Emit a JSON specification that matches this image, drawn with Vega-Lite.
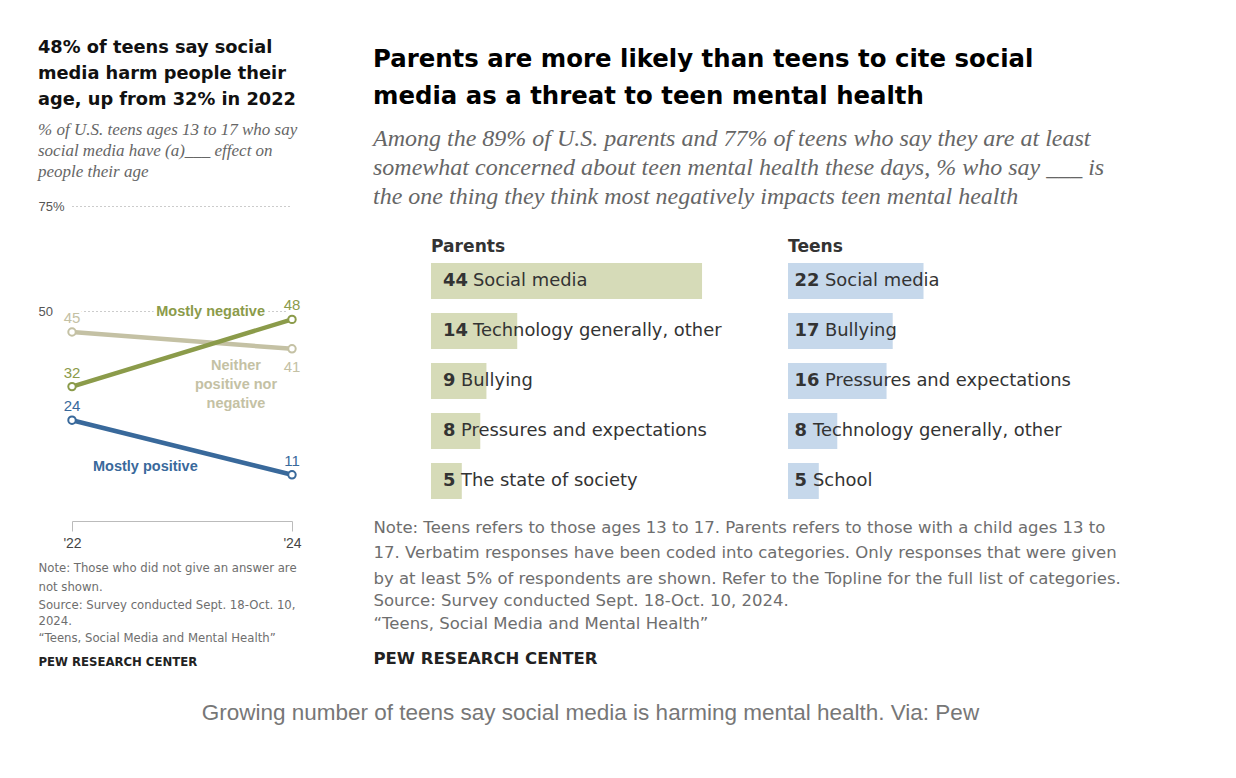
{
  "$schema": "https://vega.github.io/schema/vega-lite/v6.json",
  "background": "white",
  "padding": {"left": 38, "top": 39, "right": 5, "bottom": 5},
  "datasets": {
    "trend": [
      {"series": "Mostly positive", "year": "'22", "value": 24},
      {"series": "Mostly positive", "year": "'24", "value": 11},
      {"series": "Neither positive nor negative", "year": "'22", "value": 45},
      {"series": "Neither positive nor negative", "year": "'24", "value": 41},
      {"series": "Mostly negative", "year": "'22", "value": 32},
      {"series": "Mostly negative", "year": "'24", "value": 48}
    ],
    "parents": [
      {"item": "Social media", "value": 44},
      {"item": "Technology generally, other", "value": 14},
      {"item": "Bullying", "value": 9},
      {"item": "Pressures and expectations", "value": 8},
      {"item": "The state of society", "value": 5}
    ],
    "teens": [
      {"item": "Social media", "value": 22},
      {"item": "Bullying", "value": 17},
      {"item": "Pressures and expectations", "value": 16},
      {"item": "Technology generally, other", "value": 8},
      {"item": "School", "value": 5}
    ]
  },
  "title": {
    "text": "Growing number of teens say social media is harming mental health. Via: Pew",
    "orient": "bottom", "anchor": "middle", "dx": 11, "offset": 34,
    "font": "Liberation Sans", "fontSize": 22.5, "fontWeight": "normal", "color": "#777"
  },
  "spacing": 71,
  "hconcat": [
    {
      "spacing": 12,
      "vconcat": [
        {
          "width": 220,
          "height": 315,
          "data": {"name": "trend"},
          "title": {
            "text": ["48% of teens say social", "media harm people their", "age, up from 32% in 2022"],
            "subtitle": ["% of U.S. teens ages 13 to 17 who say", "social media have (a)___ effect on", "people their age"],
            "anchor": "start", "font": "DejaVu Sans", "fontSize": 17.8, "fontWeight": "bold", "color": "#111",
            "lineHeight": 26, "subtitleFont": "Liberation Serif", "subtitleFontStyle": "italic",
            "subtitleFontSize": 17, "subtitleColor": "#666", "subtitleLineHeight": 21,
            "subtitlePadding": 13, "offset": 20
          },
          "encoding": {
            "x": {
              "field": "year", "type": "ordinal", "sort": null,
              "scale": {"type": "point", "padding": 0},
              "axis": {"title": null, "labelAngle": 0, "domainColor": "#bbb", "tickColor": "#bbb", "tickSize": 10,
                       "labelPadding": 5, "labelFontSize": 14, "labelColor": "#444", "labelFont": "Liberation Sans", "grid": false}
            },
            "y": {
              "field": "value", "type": "quantitative", "scale": {"domain": [0, 75]},
              "axis": {"title": null, "values": [50, 75], "domain": false, "ticks": false, "tickSize": 0,
                       "labelAlign": "left", "labelPadding": 34, "labelFlush": false,
                       "labelExpr": "datum.value == 75 ? '75%' : '50'", "labelFontSize": 13, "labelColor": "#555",
                       "labelFont": "Liberation Sans", "grid": true, "gridDash": [1, 3], "gridColor": "#999", "gridWidth": 1}
            },
            "color": {
              "field": "series", "type": "nominal", "legend": null,
              "scale": {"domain": ["Mostly positive", "Neither positive nor negative", "Mostly negative"],
                        "range": ["#39699b", "#c4c1a4", "#8b9b4a"]}
            }
          },
          "layer": [
            {
              "transform": [{"filter": "!(datum.series == 'Neither positive nor negative' && datum.year == \"'24\")"}],
              "mark": {"type": "text", "dy": -14, "fontSize": 15, "font": "Liberation Sans", "stroke": "white", "strokeWidth": 6, "strokeJoin": "round"},
              "encoding": {"text": {"field": "value"}, "color": {"value": "white"}}
            },
            {
              "transform": [{"filter": "datum.series == 'Mostly negative' && datum.year == \"'24\""}],
              "mark": {"type": "text", "text": "Mostly negative", "align": "right", "dx": -27, "dy": -7, "fontSize": 14.5,
                       "font": "Liberation Sans", "fontWeight": "bold", "stroke": "white", "strokeWidth": 7, "strokeJoin": "round"},
              "encoding": {"color": {"value": "white"}}
            },
            {"mark": {"type": "line", "strokeWidth": 4.5}},
            {"mark": {"type": "point", "filled": false, "fill": "white", "size": 55, "strokeWidth": 2, "opacity": 1}},
            {
              "transform": [{"filter": "!(datum.series == 'Neither positive nor negative' && datum.year == \"'24\")"}],
              "mark": {"type": "text", "dy": -14, "fontSize": 15, "font": "Liberation Sans"},
              "encoding": {"text": {"field": "value"}}
            },
            {
              "transform": [{"filter": "datum.series == 'Neither positive nor negative' && datum.year == \"'24\""}],
              "mark": {"type": "text", "dy": 18, "fontSize": 15, "font": "Liberation Sans"},
              "encoding": {"text": {"field": "value"}}
            },
            {
              "transform": [{"filter": "datum.series == 'Mostly negative' && datum.year == \"'24\""}],
              "mark": {"type": "text", "text": "Mostly negative", "align": "right", "dx": -27, "dy": -7, "fontSize": 14.5,
                       "font": "Liberation Sans", "fontWeight": "bold"}
            },
            {
              "transform": [{"filter": "datum.series == 'Neither positive nor negative' && datum.year == \"'24\""}],
              "mark": {"type": "text", "text": ["Neither", "positive nor", "negative"], "align": "center", "baseline": "top",
                       "lineHeight": 19, "dx": -56, "dy": 10, "fontSize": 14.5, "font": "Liberation Sans", "fontWeight": "bold"}
            },
            {
              "transform": [{"filter": "datum.series == 'Mostly positive' && datum.year == \"'22\""}],
              "mark": {"type": "text", "text": "Mostly positive", "align": "left", "dx": 21, "dy": 47, "fontSize": 14.5,
                       "font": "Liberation Sans", "fontWeight": "bold"}
            }
          ]
        },
        {
          "width": 1,
          "height": 1,
          "data": {"values": [{}]},
          "layer": [
            {"mark": {"type": "text", "align": "left", "baseline": "top", "dx": -34, "font": "DejaVu Sans", "fontSize": 11.7, "color": "#6e6e6e",
                      "lineHeight": 19.5, "text": ["Note: Those who did not give an answer are", "not shown."]}, "encoding": {}},
            {"mark": {"type": "text", "align": "left", "baseline": "top", "dx": -34, "font": "DejaVu Sans", "fontSize": 11.7, "color": "#6e6e6e",
                      "lineHeight": 16.5, "dy": 37, "text": ["Source: Survey conducted Sept. 18-Oct. 10,", "2024.", "“Teens, Social Media and Mental Health”"]}, "encoding": {}},
            {"mark": {"type": "text", "align": "left", "baseline": "top", "dx": -34, "font": "DejaVu Sans", "fontSize": 11.7, "fontWeight": "bold",
                      "color": "#222", "dy": 94, "text": "PEW RESEARCH CENTER"}, "encoding": {}}
          ]
        }
      ]
    },
    {
      "spacing": 13,
      "vconcat": [
        {
          "width": 1,
          "height": 18,
          "data": {"values": [{}]},
          "title": {
            "text": ["Parents are more likely than teens to cite social", "media as a threat to teen mental health"],
            "subtitle": ["Among the 89% of U.S. parents and 77% of teens who say they are at least",
                         "somewhat concerned about teen mental health these days, % who say ___ is",
                         "the one thing they think most negatively impacts teen mental health"],
            "anchor": "start", "dx": -58, "font": "DejaVu Sans", "fontSize": 24.4, "fontWeight": "bold", "color": "#000",
            "lineHeight": 37,
            "subtitleFont": "Liberation Serif", "subtitleFontStyle": "italic", "subtitleFontSize": 24,
            "subtitleColor": "#666", "subtitleLineHeight": 29, "subtitlePadding": 18, "offset": -4
          },
          "mark": {"type": "text", "text": ""},
          "encoding": {}
        },
        {
          "spacing": 49,
          "hconcat": [
            {
              "width": 308,
              "height": 250,
              "data": {"name": "parents"},
              "title": {"text": "Parents", "anchor": "start", "font": "DejaVu Sans", "fontSize": 17.1, "fontWeight": "bold", "color": "#333", "offset": 1},
              "encoding": {
                "y": {"field": "item", "type": "nominal", "sort": null, "axis": null,
                      "scale": {"paddingInner": 0.28, "paddingOuter": 0.14}}
              },
              "layer": [
                {"mark": {"type": "bar", "color": "#d6dbb8"},
                 "encoding": {"x": {"field": "value", "type": "quantitative", "scale": {"domain": [0, 50]}, "axis": null}}},
                {"mark": {"type": "text", "align": "left", "dx": 12, "font": "DejaVu Sans", "fontSize": 17.9, "fontWeight": "bold", "color": "#333"},
                 "encoding": {"x": {"datum": 0, "type": "quantitative"}, "text": {"field": "value"}}},
                {"transform": [{"filter": "datum.value >= 10"}],
                 "mark": {"type": "text", "align": "left", "dx": 42, "font": "DejaVu Sans", "fontSize": 17.9, "color": "#333"},
                 "encoding": {"x": {"datum": 0, "type": "quantitative"}, "text": {"field": "item"}}},
                {"transform": [{"filter": "datum.value < 10"}],
                 "mark": {"type": "text", "align": "left", "dx": 30, "font": "DejaVu Sans", "fontSize": 17.9, "color": "#333"},
                 "encoding": {"x": {"datum": 0, "type": "quantitative"}, "text": {"field": "item"}}}
              ]
            },
            {
              "width": 308,
              "height": 250,
              "data": {"name": "teens"},
              "title": {"text": "Teens", "anchor": "start", "font": "DejaVu Sans", "fontSize": 17.1, "fontWeight": "bold", "color": "#333", "offset": 1},
              "encoding": {
                "y": {"field": "item", "type": "nominal", "sort": null, "axis": null,
                      "scale": {"paddingInner": 0.28, "paddingOuter": 0.14}}
              },
              "layer": [
                {"mark": {"type": "bar", "color": "#c6d8eb"},
                 "encoding": {"x": {"field": "value", "type": "quantitative", "scale": {"domain": [0, 50]}, "axis": null}}},
                {"mark": {"type": "text", "align": "left", "dx": 6.5, "font": "DejaVu Sans", "fontSize": 17.9, "fontWeight": "bold", "color": "#333"},
                 "encoding": {"x": {"datum": 0, "type": "quantitative"}, "text": {"field": "value"}}},
                {"transform": [{"filter": "datum.value >= 10"}],
                 "mark": {"type": "text", "align": "left", "dx": 37, "font": "DejaVu Sans", "fontSize": 17.9, "color": "#333"},
                 "encoding": {"x": {"datum": 0, "type": "quantitative"}, "text": {"field": "item"}}},
                {"transform": [{"filter": "datum.value < 10"}],
                 "mark": {"type": "text", "align": "left", "dx": 25, "font": "DejaVu Sans", "fontSize": 17.9, "color": "#333"},
                 "encoding": {"x": {"datum": 0, "type": "quantitative"}, "text": {"field": "item"}}}
              ]
            }
          ]
        },
        {
          "width": 1,
          "height": 1,
          "data": {"values": [{}]},
          "layer": [
            {"mark": {"type": "text", "align": "left", "baseline": "top", "dx": -58, "font": "DejaVu Sans", "fontSize": 16.5, "color": "#6e6e6e",
                      "lineHeight": 25.5, "text": ["Note: Teens refers to those ages 13 to 17. Parents refers to those with a child ages 13 to",
                                                  "17. Verbatim responses have been coded into categories. Only responses that were given",
                                                  "by at least 5% of respondents are shown. Refer to the Topline for the full list of categories."]}, "encoding": {}},
            {"mark": {"type": "text", "align": "left", "baseline": "top", "dx": -58, "font": "DejaVu Sans", "fontSize": 16.5, "color": "#6e6e6e",
                      "lineHeight": 23, "dy": 73, "text": ["Source: Survey conducted Sept. 18-Oct. 10, 2024.", "“Teens, Social Media and Mental Health”"]}, "encoding": {}},
            {"mark": {"type": "text", "align": "left", "baseline": "top", "dx": -58, "font": "DejaVu Sans", "fontSize": 16.5, "fontWeight": "bold",
                      "color": "#222", "dy": 131, "text": "PEW RESEARCH CENTER"}, "encoding": {}}
          ]
        }
      ]
    }
  ],
  "config": {"view": {"stroke": null}, "font": "Liberation Sans"}
}
